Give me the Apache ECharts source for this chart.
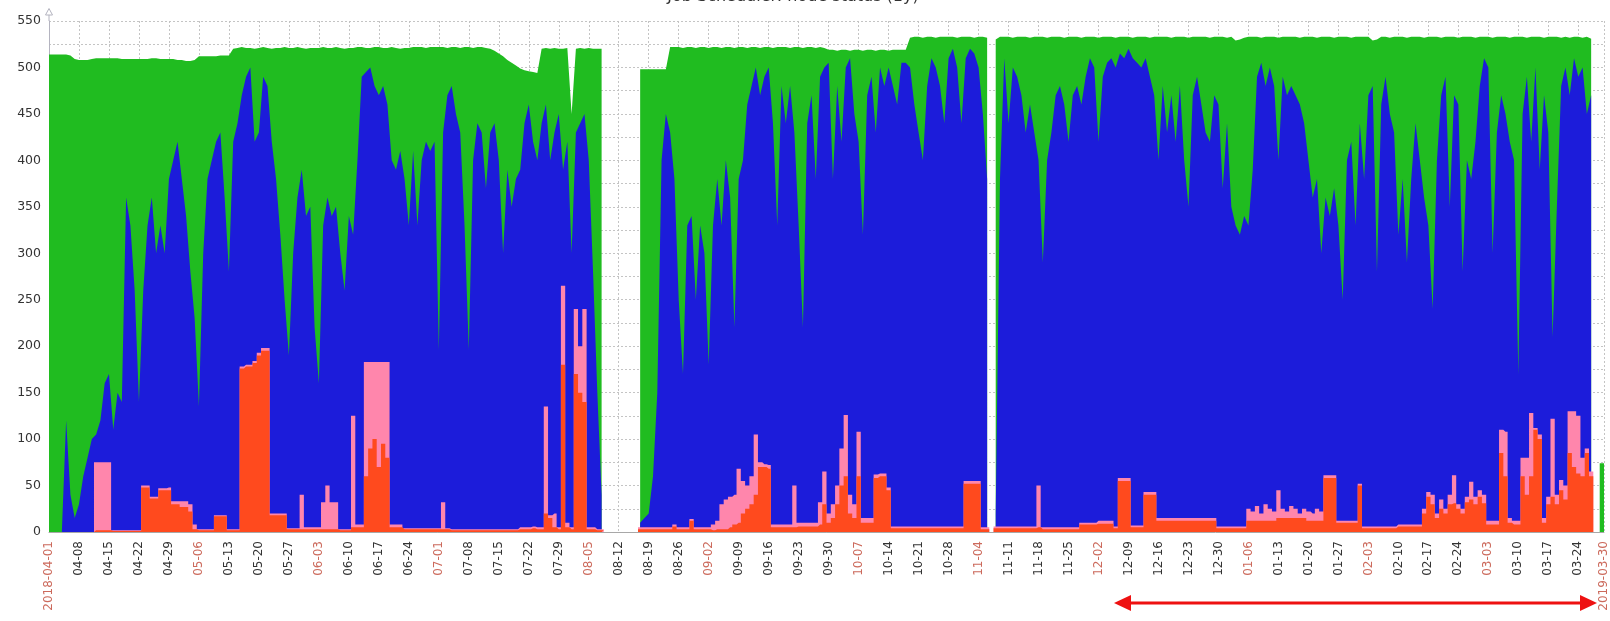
<!DOCTYPE html>
<html><head><meta charset="utf-8">
<script src="https://cdn.jsdelivr.net/npm/echarts@6/dist/echarts.min.js"></script>
<style>html,body{margin:0;padding:0;background:#fff;}#chart{width:1610px;height:621px;}</style>
</head><body><div id="chart"></div>
<script>
const titleText = 'Job Scheduler: node status (1y)';
const startDate = '2018-04-01';
const endLabel = '2019-03-30';
const weekTickLabels = ['2018-04-01','04-08','04-15','04-22','04-29','05-06','05-13','05-20','05-27','06-03','06-10','06-17','06-24','07-01','07-08','07-15','07-22','07-29','08-05','08-12','08-19','08-26','09-02','09-09','09-16','09-23','09-30','10-07','10-14','10-21','10-28','11-04','11-11','11-18','11-25','12-02','12-09','12-16','12-23','12-30','01-06','01-13','01-20','01-27','02-03','02-10','02-17','02-24','03-03','03-10','03-17','03-24'];
const monthTickLabels = ['2018-04-01','05-06','06-03','07-01','08-05','09-02','10-07','11-04','12-02','01-06','02-03','03-03','2019-03-30'];
const yTickLabels = [0,50,100,150,200,250,300,350,400,450,500,550];

// green: total nodes (top of stack)
const totalNodes = [
514,514,514,514,514,513,509,
508,508,508,509,510,510,510,
510,510,510,509,509,509,509,
509,509,509,510,510,509,509,
509,509,508,508,507,507,508,
512,512,512,512,512,513,513,
513,520,521,522,521,521,520,
521,522,521,520,521,521,522,
521,521,522,521,520,521,521,
521,522,521,521,522,521,520,
521,521,522,522,521,521,522,
522,521,521,522,521,520,521,
521,522,522,522,521,522,522,
522,522,521,522,522,521,522,
522,521,522,522,521,520,518,
515,512,508,505,502,499,497,
496,495,494,520,521,520,521,
520,520,521,450,520,521,520,
521,520,520,520,null,null,null,
null,null,null,null,null,498,498,
498,498,498,498,498,522,522,
522,521,522,522,521,522,522,
521,522,522,521,522,522,521,
522,522,521,522,522,521,522,
522,521,522,522,522,521,522,
522,521,522,522,521,522,521,
519,519,518,519,519,518,519,
519,518,519,519,518,519,519,
518,519,519,519,519,532,533,
533,532,533,533,532,533,533,
533,533,532,533,533,533,532,
533,533,532,null,530,533,533,
533,532,533,533,533,532,533,
533,533,532,533,533,533,532,
533,533,533,532,533,533,533,
532,533,533,533,532,533,533,
533,532,533,533,533,532,533,
533,533,533,532,533,533,533,
532,533,533,533,533,532,533,
533,533,532,533,529,530,532,
533,533,533,532,533,533,533,
532,533,533,533,533,532,533,
533,533,532,533,533,533,532,
533,533,533,532,533,533,533,
533,529,530,533,533,532,533,
533,533,532,533,533,533,532,
533,533,533,532,533,533,533,
532,533,533,533,532,533,533,
533,532,533,533,533,532,533,
533,533,532,533,533,533,532,
533,533,533,532,533,532,533,
533,532,533,531,null,74,74
];
// blue: top of allocated band
const allocTop = [
0,0,0,0,120,40,15,
30,60,80,100,105,120,160,
170,110,150,140,360,330,260,
140,260,330,360,300,330,300,
380,400,420,380,340,280,230,
135,300,380,400,420,430,360,
280,420,440,470,490,500,420,
430,490,480,420,380,320,250,
190,300,360,390,340,350,220,
160,330,360,340,350,300,260,
340,320,400,490,495,500,480,
470,480,460,400,390,410,380,
330,410,330,400,420,410,420,
196,430,470,480,450,430,330,
196,400,440,430,370,430,440,
400,300,390,350,380,390,440,
460,420,400,440,460,400,430,
450,390,420,300,430,440,450,
400,280,150,40,null,null,null,
null,null,null,null,null,10,15,
20,60,150,400,450,430,380,
250,170,330,340,250,330,300,
180,330,380,330,400,360,220,
380,400,460,480,500,470,490,
500,440,330,480,440,480,430,
330,220,440,470,380,490,500,
505,380,480,420,500,510,450,
420,320,470,490,430,500,480,
500,480,460,505,505,500,460,
430,400,480,510,500,480,440,
510,520,500,440,510,520,515,
500,450,380,null,20,380,510,
440,500,490,470,430,460,430,
400,290,400,430,470,480,460,
420,470,480,460,490,510,500,
420,490,505,510,500,515,510,
520,510,505,500,510,490,470,
400,480,430,470,420,480,400,
350,470,490,460,430,420,470,
460,370,440,350,330,320,340,
330,390,490,505,480,500,480,
400,490,470,480,470,460,440,
400,360,380,300,360,340,370,
330,250,400,420,330,440,380,
470,480,280,460,490,450,430,
320,380,290,380,440,400,360,
330,240,400,470,490,350,470,
460,280,400,380,420,480,510,
500,300,430,470,450,420,400,
170,450,490,420,500,390,470,
430,210,350,480,500,470,510,
490,500,450,470,null,0,0
];
// pink: top of drained band
const drainTop = [
0,0,0,0,0,0,0,
0,0,0,0,75,75,75,
75,2,2,2,2,2,2,
2,50,50,38,38,47,47,
48,33,33,33,33,30,8,
3,3,3,3,18,18,18,
3,3,3,178,180,180,184,
193,198,198,20,20,20,20,
4,4,4,40,5,5,5,
5,32,50,32,32,3,3,
3,125,8,8,183,183,183,
183,183,183,8,8,8,4,
4,4,4,4,4,4,4,
4,32,4,3,3,3,3,
3,3,3,3,3,3,3,
3,3,3,3,3,5,5,
5,6,5,5,135,18,20,
5,265,10,5,240,200,240,
5,5,3,3,null,null,null,
null,null,null,null,null,5,5,
5,5,5,5,5,5,8,
5,5,5,14,5,5,5,
5,8,12,30,35,38,40,
68,55,50,60,105,75,73,
72,8,8,8,8,8,50,
10,10,10,10,10,32,65,
20,30,50,90,126,40,30,
108,15,15,15,62,63,63,
48,6,6,6,6,6,6,
6,6,6,6,6,6,6,
6,6,6,6,55,55,55,
55,5,5,null,6,6,6,
6,6,6,6,6,6,6,
50,5,5,5,5,5,5,
5,5,5,10,10,10,10,
12,12,12,12,6,58,58,
58,7,7,7,43,43,43,
15,15,15,15,15,15,15,
15,15,15,15,15,15,15,
6,6,6,6,6,6,6,
25,22,28,20,30,25,22,
45,25,22,28,25,20,25,
22,20,25,22,61,61,61,
12,12,12,12,12,52,6,
6,6,6,6,6,6,6,
8,8,8,8,8,8,25,
43,40,20,35,25,40,61,
30,25,38,54,38,45,40,
12,12,12,110,108,15,12,
12,80,80,128,112,105,15,
38,122,40,56,50,130,130,
125,80,90,65,null,0,0
];
// red: down nodes (bottom band)
const downNodes = [
0,0,0,0,0,0,0,
0,0,0,0,2,2,2,
2,1,1,1,1,1,1,
1,48,48,36,36,45,45,
45,30,30,27,27,22,3,
2,2,2,2,17,17,17,
2,2,2,176,178,178,182,
190,195,195,18,18,18,18,
3,3,3,3,3,3,3,
3,3,3,3,3,2,2,
2,5,5,5,60,90,100,
70,95,80,5,5,5,3,
3,3,3,3,3,3,3,
3,3,3,2,2,2,2,
2,2,2,2,2,2,2,
2,2,2,2,2,3,3,
3,4,3,3,20,15,5,
3,180,5,3,170,150,140,
3,3,2,2,null,null,null,
null,null,null,null,null,3,3,
3,3,3,3,3,3,6,
3,3,3,12,3,3,3,
3,2,3,3,3,5,8,
10,20,25,30,40,70,70,
68,5,5,5,5,5,5,
6,6,6,6,6,8,30,
10,15,30,50,60,20,15,
60,10,10,10,58,60,60,
45,4,4,4,4,4,4,
4,4,4,4,4,4,4,
4,4,4,4,52,52,52,
52,3,3,null,4,4,4,
4,4,4,4,4,4,4,
5,3,3,3,3,3,3,
3,3,3,8,8,8,8,
9,9,9,9,4,55,55,
55,5,5,5,40,40,40,
12,12,12,12,12,12,12,
12,12,12,12,12,12,12,
4,4,4,4,4,4,4,
12,12,12,12,12,12,12,
15,15,15,15,15,15,15,
12,12,12,12,58,58,58,
10,10,10,10,10,50,4,
4,4,4,4,4,4,4,
6,6,6,6,6,6,20,
38,30,15,25,20,30,31,
25,20,32,35,30,38,31,
8,8,8,85,60,10,8,
8,60,40,60,110,100,10,
30,38,30,45,35,85,70,
63,60,85,60,null,0,0
];

// x categories: one per day from startDate
const dayCategories = [];
(function(){
  const d0 = new Date(startDate + 'T00:00:00Z');
  for (let i = 0; i < totalNodes.length; i++) {
    const d = new Date(d0.getTime() + i * 86400000);
    dayCategories.push(d.toISOString().slice(0,10));
  }
})();
const lastIndex = dayCategories.length - 1;

function tickShown(index) { return index % 7 === 0 || index === lastIndex; }
function tickLabel(index) {
  if (index % 7 === 0) return weekTickLabels[index / 7];
  if (index === lastIndex) return endLabel;
  return '';
}

const GREEN = '#20BC20', BLUE = '#1C1CDA', PINK = '#FF86AC', RED = '#FF4A1E';

function areaSeries(name, data, color, step) {
  return {
    name: name, type: 'line', data: data, step: step || false,
    symbol: 'none', silent: true, connectNulls: false,
    lineStyle: { width: 0, color: color }, itemStyle: { color: color },
    areaStyle: { color: color, opacity: 1 }
  };
}

const chart = echarts.init(document.getElementById('chart'), null, { renderer: 'canvas' });
chart.setOption({
  animation: false,
  backgroundColor: '#ffffff',
  grid: { left: 49, right: 0, top: 21, bottom: 89, containLabel: false },
  xAxis: {
    type: 'category', data: dayCategories, boundaryGap: false,
    axisLine: { show: true, lineStyle: { color: '#a8a8a8', width: 1 } },
    axisTick: { show: false },
    splitLine: { show: true, interval: function (i) { return tickShown(i); },
      lineStyle: { color: '#c4c4c4', type: [2, 2], width: 1 } },
    axisLabel: {
      interval: function (i) { return tickShown(i); },
      rotate: 90, margin: 9, fontFamily: 'DejaVu Sans', fontSize: 12,
      formatter: function (value, index) {
        const lab = tickLabel(index);
        if (!lab) return '';
        return (monthTickLabels.indexOf(lab) >= 0 ? '{r|' : '{n|') + lab + '}';
      },
      rich: {
        n: { color: '#333333', fontFamily: 'DejaVu Sans', fontSize: 12 },
        r: { color: '#cc6a5c', fontFamily: 'DejaVu Sans', fontSize: 12 }
      }
    }
  },
  yAxis: {
    type: 'value', min: 0, max: 550, interval: 25,
    axisLine: { show: true, lineStyle: { color: '#b4b4c0', width: 1 } },
    axisTick: { show: false },
    splitLine: { show: true, lineStyle: { color: '#c4c4c4', type: [2, 2], width: 1 } },
    axisLabel: {
      margin: 8, color: '#333333', fontFamily: 'DejaVu Sans', fontSize: 12.5,
      formatter: function (v) { return yTickLabels.indexOf(v) >= 0 ? String(v) : ''; }
    }
  },
  series: [
    areaSeries('Total', totalNodes, GREEN),
    areaSeries('Allocated', allocTop, BLUE),
    areaSeries('Drained', drainTop, PINK, 'middle'),
    areaSeries('Down', downNodes, RED, 'middle')
  ],
  graphic: [
    { type: 'text', x: 793, y: 5, z: 100,
      style: { text: titleText, font: '16px "DejaVu Sans"', fill: '#333333',
               textAlign: 'center', textVerticalAlign: 'bottom' } },
    { type: 'polyline', z: 100, shape: { points: [[49, 21], [49, 15]] },
      style: { stroke: '#b4b4c0', lineWidth: 1, fill: null } },
    { type: 'polygon', z: 100, shape: { points: [[45.5, 15], [49, 8.5], [52.5, 15]] },
      style: { stroke: '#b4b4c0', lineWidth: 1, fill: '#ffffff' } },
    { type: 'line', z: 100, shape: { x1: 1128, y1: 603, x2: 1583, y2: 603 },
      style: { stroke: '#ee1111', lineWidth: 3 } },
    { type: 'polygon', z: 100, shape: { points: [[1114, 603], [1131, 595], [1131, 611]] },
      style: { fill: '#ee1111' } },
    { type: 'polygon', z: 100, shape: { points: [[1597, 603], [1580, 595], [1580, 611]] },
      style: { fill: '#ee1111' } }
  ]
});
</script>
</body></html>
